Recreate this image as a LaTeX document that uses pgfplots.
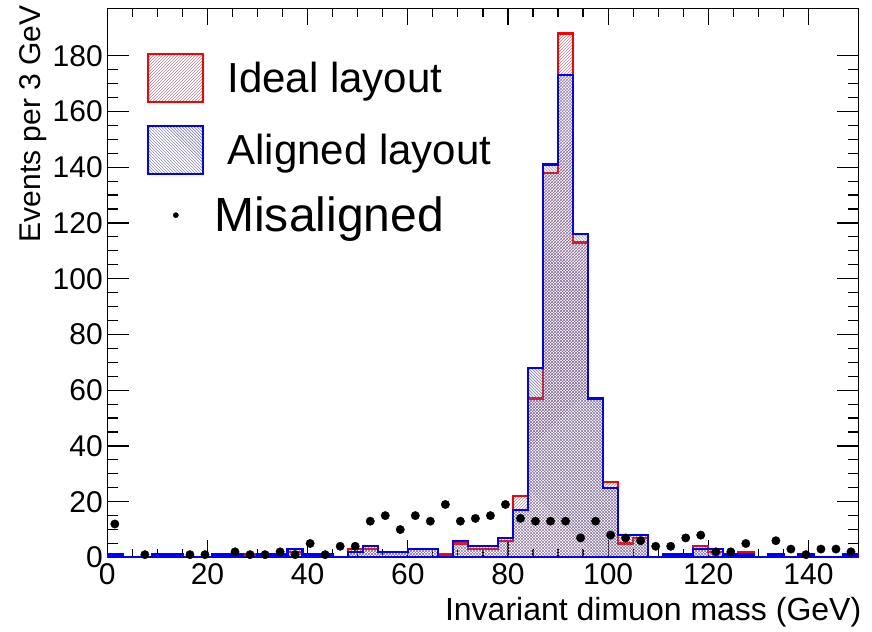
\documentclass[border=0pt]{standalone}
\usepackage{fontspec}
\setmainfont{Liberation Sans}
\usepackage{pgfplots}
\pgfplotsset{compat=1.18}
\usetikzlibrary{patterns,calc}
\definecolor{idealhatch}{RGB}{160,100,120}
\definecolor{alignhatch}{RGB}{110,110,170}
\pgfplotsset{
  boxlegend/.style={legend image code/.code={\draw[##1, line width=2pt] (0pt,-24pt) rectangle (55pt,24pt);}},
  dotlegend/.style={legend image code/.code={\path (0pt,0pt) (55pt,0pt); \fill[black] (27.5pt,0pt) circle (2.6pt);}},
}

\begin{document}
\begin{tikzpicture}
\begin{axis}[
  name=ax,
  scale only axis, width=751pt, height=549pt,
  xmin=0, xmax=150, ymin=0, ymax=197,
  xtick={0,20,...,140}, ytick={0,20,...,180},
  minor x tick num=3, minor y tick num=3,
  tick align=inside, major tick length=22pt, minor tick length=11pt,
  xtick style={/pgfplots/major tick length=17pt, /pgfplots/minor tick length=8.5pt},
  axis line style={line width=1.4pt},
  every tick/.style={black, line width=1.2pt},
  /pgf/number format/assume math mode=true,
  tick label style={font=\fontsize{30}{30}\selectfont},
  yticklabel style={xshift=-1pt},
  xticklabel style={yshift=-3pt},
  xlabel={Invariant dimuon mass (GeV)},
  xlabel style={font=\fontsize{32}{32}\selectfont, at={(rel axis cs:1,0)}, anchor=north east, inner sep=0pt, yshift=-40pt, xshift=3pt},
  ylabel={Events per 3 GeV},
  ylabel style={font=\fontsize{30}{30}\selectfont, at={($(rel axis cs:0,1)+(-60pt,3pt)$)}, anchor=south east, inner sep=0pt},
  legend style={at={(0.053,0.919)}, anchor=north west, draw=none, fill=none, inner sep=0pt,
    row sep=22pt, column sep=23pt, nodes={inner sep=0pt, anchor=west},
    font=\fontsize{42}{42}\selectfont},
  legend cell align=left,
]
% Ideal layout (red, / hatch)
\addplot[const plot, draw=red, line width=2.4pt, pattern=north east lines, pattern color=idealhatch, boxlegend]
  coordinates {(0,1) (3,0) (6,0) (9,1) (12,1) (15,0) (18,0) (21,1) (24,1) (27,1) (30,0) (33,1)
  (36,2) (39,1) (42,1) (45,0) (48,3) (51,3) (54,2) (57,2) (60,3) (63,3) (66,1) (69,5) (72,3)
  (75,3) (78,6) (81,22) (84,57) (87,138) (90,188) (93,113) (96,57) (99,27) (102,5) (105,7)
  (108,0) (111,1) (114,1) (117,4) (120,2) (123,1) (126,2) (129,0) (132,1) (135,0) (138,1)
  (141,0) (144,0) (147,1) (150,1)} \closedcycle;
\addlegendentry{Ideal layout}
% Aligned layout (blue, \ hatch)
\addplot[const plot, draw=blue, line width=2.4pt, pattern=north west lines, pattern color=alignhatch, boxlegend]
  coordinates {(0,1) (3,0) (6,0) (9,1) (12,1) (15,0) (18,0) (21,1) (24,1) (27,0) (30,1) (33,1)
  (36,3) (39,1) (42,1) (45,0) (48,2) (51,4) (54,2) (57,2) (60,3) (63,3) (66,0) (69,6) (72,4)
  (75,4) (78,7) (81,17) (84,68) (87,141) (90,173) (93,116) (96,57) (99,25) (102,8) (105,8)
  (108,0) (111,1) (114,1) (117,3) (120,3) (123,1) (126,1) (129,0) (132,1) (135,0) (138,1)
  (141,0) (144,0) (147,1) (150,1)} \closedcycle;
\addlegendentry{Aligned layout}
% Misaligned (points)
\addplot[only marks, mark=*, mark size=4.2pt, black, dotlegend]
  coordinates {(1.5,12) (7.5,1) (16.5,1) (19.5,1) (25.5,2) (28.5,1) (31.5,1) (34.5,2) (37.5,1)
  (40.5,5) (43.5,1) (46.5,4) (49.5,4) (52.5,13) (55.5,15) (58.5,10) (61.5,15) (64.5,13)
  (67.5,19) (70.5,13) (73.5,14) (76.5,15) (79.5,19) (82.5,14) (85.5,13) (88.5,13) (91.5,13)
  (94.5,7) (97.5,13) (100.5,8) (103.5,7) (106.5,6) (109.5,4) (112.5,4) (115.5,7) (118.5,8)
  (121.5,2) (124.5,2) (127.5,5) (133.5,6) (136.5,3) (139.5,1) (142.5,3) (145.5,3) (148.5,2)};
\addlegendentry{\hspace*{-13pt}\fontsize{48}{48}\selectfont Misaligned}
\end{axis}
\pgfresetboundingbox
\path[use as bounding box] ($(ax.south west)+(-107.3pt,-74.5pt)$) rectangle ($(ax.north east)+(13.5pt,8.3pt)$);
\end{tikzpicture}
\end{document}
